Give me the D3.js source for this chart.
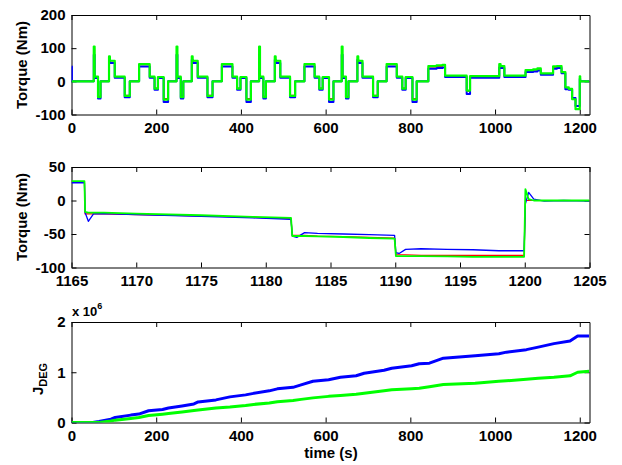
<!DOCTYPE html>
<html>
<head>
<meta charset="utf-8">
<script src="https://cdnjs.cloudflare.com/ajax/libs/d3/7.8.5/d3.min.js"></script>
<style>
  body { margin: 0; background: #fff; }
  svg { display: block; font-family: "Liberation Sans", Arial, sans-serif; }
  .tick text { font-size: 15px; font-weight: bold; fill: #000; }
  .domain, .tick line { stroke: #000; }
</style>
</head>
<body>
<svg id="chart" width="622" height="465"></svg>
<script>
// ---- full drive cycle torque, step breakpoints (s, Nm) ----
const torqueTimes = [0, 1,
  52.6, 54.6, 62.6, 68.6, 88.6, 90.6, 102.1, 125.6, 137.6, 159.6, 184.6, 196.1, 204.1, 217.6, 228.1,
  248, 250, 258, 264, 284, 286, 298, 321, 333, 355, 380, 391, 399, 413, 423.5,
  443, 445, 453, 459, 480, 482, 493, 516, 528, 550, 574, 585, 593, 608, 618.5,
  638, 640, 648, 654, 675, 677, 687, 712, 723, 744, 768, 781, 789, 805, 815,
  842.5, 862, 876, 882, 933, 941, 1010, 1013, 1022, 1072, 1090, 1100, 1108, 1137, 1146, 1157,
  1166, 1174, 1182, 1190, 1200, 1201, 1223];
const torqueRef = [0, 0,
  100, 12, -45, 0, 72, 58, 13, -42, 0, 50, 13, -20, 12, -52, 0,
  100, 12, -45, 0, 72, 58, 13, -42, 0, 50, 13, -20, 12, -52, 0,
  100, 12, -45, 0, 72, 58, 13, -42, 0, 50, 13, -20, 12, -52, 0,
  100, 12, -45, 0, 72, 58, 13, -42, 0, 50, 13, -20, 12, -52, 0,
  43, 45, 47, 16, -30, 14, 48, 44, 15, 31, 34, 37, 22, 42, 44, 27,
  -20, -24, -53, -82, 0, 0, 0];
const torqueBlue = [45, 0,
  80, 10, -52, 0, 65, 55, 11, -48, 0, 45, 11, -25, 10, -62, 0,
  80, 10, -52, 0, 65, 55, 11, -48, 0, 45, 11, -25, 10, -62, 0,
  80, 10, -52, 0, 65, 55, 11, -48, 0, 45, 11, -25, 10, -62, 0,
  80, 10, -52, 0, 65, 55, 11, -48, 0, 45, 11, -25, 10, -62, 0,
  38, 40, 42, 13, -38, 11, 42, 40, 13, 28, 30, 33, 20, 38, 40, 24,
  -24, -25, -50, -74, 8, 0, 0];
const torqueGreen = [0, 0,
  105, 14, -48, 0, 75, 62, 14, -44, 0, 52, 14, -22, 13, -55, 0,
  105, 14, -48, 0, 75, 62, 14, -44, 0, 52, 14, -22, 13, -55, 0,
  105, 14, -48, 0, 75, 62, 14, -44, 0, 52, 14, -22, 13, -55, 0,
  105, 14, -48, 0, 75, 62, 14, -44, 0, 52, 14, -22, 13, -55, 0,
  46, 48, 50, 17, -28, 16, 52, 46, 17, 34, 36, 39, 24, 45, 46, 28,
  -18, -23, -54, -84, 15, 0, 0];

// ---- zoom on the last 40 s ----
const zoomTimes = [1165, 1166, 1166.05, 1166.3, 1166.7, 1167.5, 1170, 1175, 1179, 1181.95,
  1182.05, 1182.4, 1183, 1184, 1186, 1188, 1189.95, 1190.05, 1190.3, 1190.8, 1192, 1194, 1196, 1198, 1199.95,
  1200.05, 1200.3, 1200.7, 1201.5, 1203, 1205];
const zoomRef = [28, 28, -20, -20, -20, -20, -21, -23, -25, -27,
  -52, -52, -52, -53, -54, -55, -56, -81, -81, -81, -82, -82, -82, -82, -82,
  0, 0, 0, 0, 0, 0];
const zoomBlue = [26.5, 26.5, -18, -31, -20, -19.5, -21, -23.5, -26, -28,
  -53, -55, -48, -49, -50, -51, -52, -78, -79, -73, -72, -73, -73.5, -75, -75,
  -5, 12, 2, -1, 0, -1];
const zoomGreen = [29, 29, -17, -18, -18, -18, -19.5, -22, -24.5, -26,
  -53, -53, -53, -53.5, -54.5, -56, -57, -83, -83, -83, -83, -83.5, -84, -84, -84,
  17, 2, 0, 0, 0, 0];

// ---- accumulated degradation cost (x 10^6) ----
const costTimes = [0, 50, 65, 93, 103, 140, 159, 182, 215, 229, 261, 289, 299, 341, 374, 411, 430, 467, 486, 523,
  542, 570, 607, 635, 672, 691, 738, 756, 803, 821, 845, 878, 953, 1009, 1027, 1074, 1102, 1139, 1177, 1195, 1222];
const costBlue = [0, 0, 0.02, 0.067, 0.1, 0.147, 0.167, 0.234, 0.26, 0.29, 0.33, 0.37, 0.41, 0.45, 0.51, 0.55, 0.58, 0.63, 0.67, 0.70,
  0.75, 0.82, 0.85, 0.90, 0.93, 0.98, 1.04, 1.08, 1.13, 1.17, 1.18, 1.28, 1.33, 1.37, 1.40, 1.45, 1.50, 1.57, 1.62, 1.72, 1.72];
const costGreen = [0, 0, 0, 0.03, 0.047, 0.08, 0.10, 0.14, 0.165, 0.178, 0.21, 0.24, 0.25, 0.29, 0.31, 0.34, 0.36, 0.39, 0.415, 0.44,
  0.46, 0.49, 0.52, 0.535, 0.56, 0.58, 0.63, 0.65, 0.67, 0.68, 0.71, 0.755, 0.78, 0.82, 0.83, 0.86, 0.88, 0.90, 0.93, 1.0, 1.02];

const timeTicks = [0, 200, 400, 600, 800, 1000, 1200];
const zoomTicks = [1165, 1170, 1175, 1180, 1185, 1190, 1195, 1200, 1205];
const torqueTicks = [-100, 0, 100, 200];
const zoomTorqueTicks = [-100, -50, 0, 50];
const costTicks = [0, 1, 2];

const svg = d3.select("#chart");
svg.append("rect").attr("width", 622).attr("height", 465).attr("fill", "#fff");

const left = 71.5, right = 589.5;

function frame(id, x, y, xTicks, yTicks) {
  const [y0, y1] = y.range();
  const g = svg.append("g");
  g.append("clipPath").attr("id", id)
    .append("rect").attr("x", left).attr("y", y1).attr("width", right - left).attr("height", y0 - y1);

  const fmt = d => String(d);
  g.append("g").attr("transform", `translate(0,${y0})`)
    .call(d3.axisBottom(x).tickValues(xTicks).tickSizeInner(-5).tickSizeOuter(0).tickPadding(8).tickFormat(fmt));
  g.append("g").attr("transform", `translate(0,${y1})`)
    .call(d3.axisTop(x).tickValues(xTicks).tickSizeInner(-5).tickSizeOuter(0).tickFormat(""));
  g.append("g").attr("transform", `translate(${left},0)`)
    .call(d3.axisLeft(y).tickValues(yTicks).tickSizeInner(-5).tickSizeOuter(0).tickPadding(6).tickFormat(fmt));
  g.append("g").attr("transform", `translate(${right},0)`)
    .call(d3.axisRight(y).tickValues(yTicks).tickSizeInner(-5).tickSizeOuter(0).tickFormat(""));
  g.selectAll(".tick text").attr("font-family", null).attr("font-size", null);
  return g.append("g").attr("clip-path", `url(#${id})`);
}

function series(plot, x, y, xs, ys, color, width, curve) {
  const line = d3.line().x(d => x(d[0])).y(d => y(d[1])).curve(curve);
  plot.append("path")
    .datum(xs.map((t, i) => [t, ys[i]]))
    .attr("d", line)
    .attr("fill", "none")
    .attr("stroke", color)
    .attr("stroke-width", width)
    .attr("stroke-linejoin", "round");
}

// panel 1: whole cycle
const x1 = d3.scaleLinear().domain([0, 1223]).range([left, right]);
const y1 = d3.scaleLinear().domain([-100, 200]).range([114.5, 15]);
const p1 = frame("clip1", x1, y1, timeTicks, torqueTicks);
series(p1, x1, y1, torqueTimes, torqueRef, "#ff0000", 1, d3.curveStepAfter);
series(p1, x1, y1, torqueTimes, torqueBlue, "#0000ff", 2, d3.curveStepAfter);
series(p1, x1, y1, torqueTimes, torqueGreen, "#00ff00", 2.2, d3.curveStepAfter);

// panel 2: zoom
const x2 = d3.scaleLinear().domain([1165, 1205]).range([left, right]);
const y2 = d3.scaleLinear().domain([-100, 50]).range([267.5, 167]);
const p2 = frame("clip2", x2, y2, zoomTicks, zoomTorqueTicks);
series(p2, x2, y2, zoomTimes, zoomRef, "#ff0000", 1.2, d3.curveLinear);
series(p2, x2, y2, zoomTimes, zoomBlue, "#0000ff", 1.3, d3.curveLinear);
series(p2, x2, y2, zoomTimes, zoomGreen, "#00ff00", 1.8, d3.curveLinear);

// panel 3: cost
const x3 = d3.scaleLinear().domain([0, 1223]).range([left, right]);
const y3 = d3.scaleLinear().domain([0, 2]).range([422.5, 322]);
const p3 = frame("clip3", x3, y3, timeTicks, costTicks);
series(p3, x3, y3, costTimes, costBlue, "#0000ff", 3, d3.curveLinear);
series(p3, x3, y3, costTimes, costGreen, "#00ff00", 3, d3.curveLinear);

// labels
const bold = sel => sel.attr("font-weight", "bold").attr("fill", "#000");
svg.append("text").attr("transform", "translate(27,65) rotate(-90)")
  .attr("text-anchor", "middle").attr("font-size", 15).call(bold).text("Torque (Nm)");
svg.append("text").attr("transform", "translate(27,217) rotate(-90)")
  .attr("text-anchor", "middle").attr("font-size", 15).call(bold).text("Torque (Nm)");

const jl = svg.append("text").attr("transform", "translate(43,379) rotate(-90)")
  .attr("text-anchor", "middle").call(bold);
jl.append("tspan").attr("font-size", 15).text("J");
jl.append("tspan").attr("font-size", 11).attr("dy", 4).text("DEG");

const sc = svg.append("text").attr("x", 72).attr("y", 316).call(bold);
sc.append("tspan").attr("font-size", 13).text("x 10");
sc.append("tspan").attr("font-size", 9).attr("dy", -7).text("6");

svg.append("text").attr("x", 331).attr("y", 458).attr("text-anchor", "middle")
  .attr("font-size", 15).call(bold).text("time (s)");
</script>
</body>
</html>
